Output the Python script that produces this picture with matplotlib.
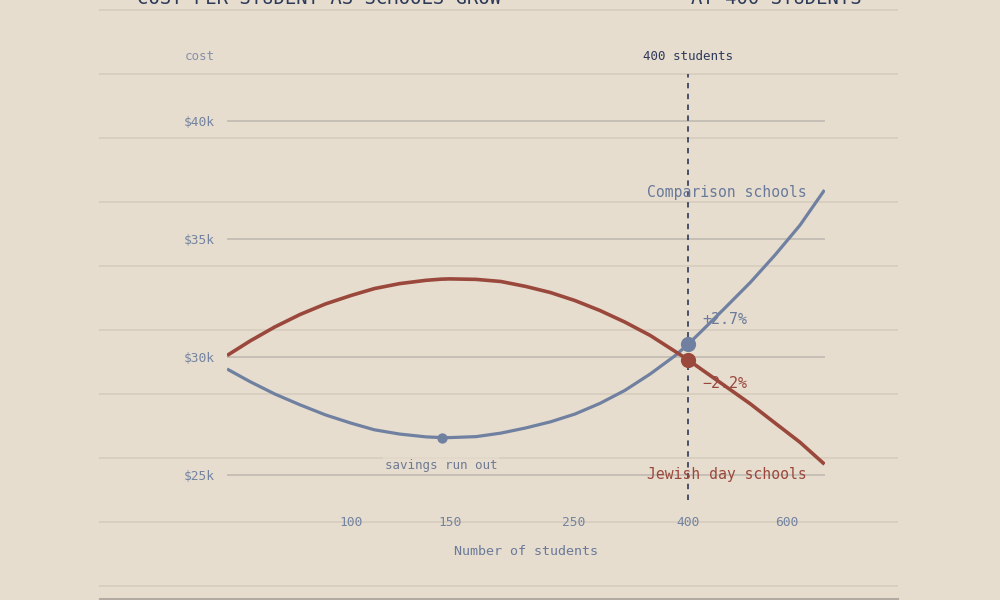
import matplotlib
matplotlib.use("Agg")
import matplotlib.pyplot as plt
from matplotlib.lines import Line2D

# ---- data ----
students = [60, 66, 73, 81, 90, 100, 110, 122, 136, 145, 150, 167, 185, 205, 227,
            251, 278, 308, 342, 379, 400, 420, 465, 516, 571, 633, 700]
jewish_cost = [30.06, 30.68, 31.27, 31.80, 32.25, 32.61, 32.90, 33.11, 33.25, 33.30,
               33.31, 33.29, 33.20, 32.99, 32.73, 32.39, 31.97, 31.48, 30.91, 30.23,
               29.87, 29.51, 28.77, 28.01, 27.20, 26.38, 25.45]
comparison_cost = [29.49, 28.95, 28.43, 27.97, 27.54, 27.19, 26.91, 26.73, 26.61, 26.58,
                   26.58, 26.62, 26.77, 26.99, 27.25, 27.58, 28.03, 28.58, 29.28, 30.06,
                   30.55, 31.04, 32.08, 33.16, 34.32, 35.59, 37.08]
min_students = 145
min_cost = 26.58
focus_students = 400
focus_comparison = 30.55
focus_jewish = 29.87
y_ticks = [25, 30, 35, 40]
y_tick_labels = ["$25k", "$30k", "$35k", "$40k"]
x_ticks = [100, 150, 250, 400, 600]
x_tick_labels = ["100", "150", "250", "400", "600"]

BG = "#e6ddcf"
RED = "#9b483c"
BLUE = "#7080a0"
NAVY = "#2d3a5a"
TICK = "#7383a0"
FAINT = "#d8cfc1"
GRID = "#c6bfb5"
FONT = "DejaVu Sans Mono"

plt.rcParams["font.family"] = [FONT, "DejaVu Sans"]

W, H = 1000, 600
fig = plt.figure(figsize=(10, 6), dpi=100, facecolor=BG)

def fx(px):
    return px / W

def fy(py):
    return 1 - py / H

# background ruled lines
for py in [10, 74, 138, 202, 266, 330, 394, 458, 522, 586]:
    fig.add_artist(Line2D([fx(100), fx(897)], [fy(py), fy(py)], color=FAINT, lw=1.4, zorder=0))
fig.add_artist(Line2D([fx(100), fx(897)], [fy(599), fy(599)], color="#b3aba1", lw=2.2, zorder=0))

# titles (cut off at top, as in the reference)
fig.text(fx(137), fy(4), "COST PER STUDENT AS SCHOOLS GROW", color=NAVY, fontsize=13.6,
         ha="left", va="baseline", family=FONT)
fig.text(fx(862), fy(4), "AT 400 STUDENTS", color=NAVY, fontsize=13.6,
         ha="right", va="baseline", family=FONT)

ax = fig.add_axes([fx(227), fy(522), fx(824.5) - fx(227), (522 - 74) / H])
ax.set_facecolor("none")
ax.set_xscale("log")
ax.set_xlim(60, 700)
ax.set_ylim(23, 42)
for s in ax.spines.values():
    s.set_visible(False)
ax.minorticks_off()
ax.set_xticks([])
ax.set_yticks(y_ticks)
ax.set_yticklabels(y_tick_labels, color=TICK, fontsize=9.3, family=FONT)
ax.tick_params(axis="y", length=0, pad=8.5)
for yv in y_ticks:
    ax.axhline(yv, color=GRID, lw=1.4, zorder=1)

# x tick labels
for xv, lab in zip(x_ticks, x_tick_labels):
    ax.text(xv, 0, lab, transform=ax.get_xaxis_transform(), ha="center", va="center",
            color=TICK, fontsize=9.3, family=FONT, clip_on=False)
ax.text(0.500, -0.065, "Number of students", transform=ax.transAxes, ha="center",
        va="center", color="#6b7a99", fontsize=9.6, family=FONT)
ax.text(-0.02, 1.04, "cost", transform=ax.transAxes, ha="right", va="center",
        color="#8590a8", fontsize=9, family=FONT)

# 400-students marker
ax.plot([focus_students, focus_students], [23.95, 42], color="#3d4560", lw=1.3,
        ls=(0, (3, 3)), zorder=2)
ax.text(focus_students, 1.04, "400 students", transform=ax.get_xaxis_transform(),
        ha="center", va="center", color=NAVY, fontsize=9, family=FONT)

# curves
ax.plot(students, comparison_cost, color=BLUE, lw=2.3, solid_joinstyle="round",
        solid_capstyle="butt", zorder=4)
ax.plot(students, jewish_cost, color=RED, lw=2.6, solid_joinstyle="round",
        solid_capstyle="butt", zorder=4)

ax.scatter([focus_students], [focus_comparison], s=120, color=BLUE, zorder=6, lw=0)
ax.scatter([focus_students], [focus_jewish], s=120, color=RED, zorder=6, lw=0)
ax.scatter([min_students], [min_cost], s=55, color=BLUE, zorder=6, lw=0)

# labels (axes children so the curves can pass over them)
def label(text, px, py, color, size, ha="center", **kw):
    ax.text(fx(px), fy(py), text, transform=fig.transFigure, ha=ha, va="center",
            color=color, fontsize=size, family=FONT, zorder=3, clip_on=False, **kw)

label("Comparison schools", 727, 193, "#6a7a9a", 10.6)
label("Jewish day schools", 727, 474, RED, 10.6)
label("+2.7%", 702, 320, "#6a7a9a", 10.8, ha="left")
label("\u22122.2%", 702, 383, RED, 10.8, ha="left")
label("savings run out", 441, 465, "#6f7a92", 9,
      bbox=dict(boxstyle="square,pad=0.15", fc=BG, ec="none", alpha=0.7))

fig.savefig("out.png", dpi=100, facecolor=BG)
